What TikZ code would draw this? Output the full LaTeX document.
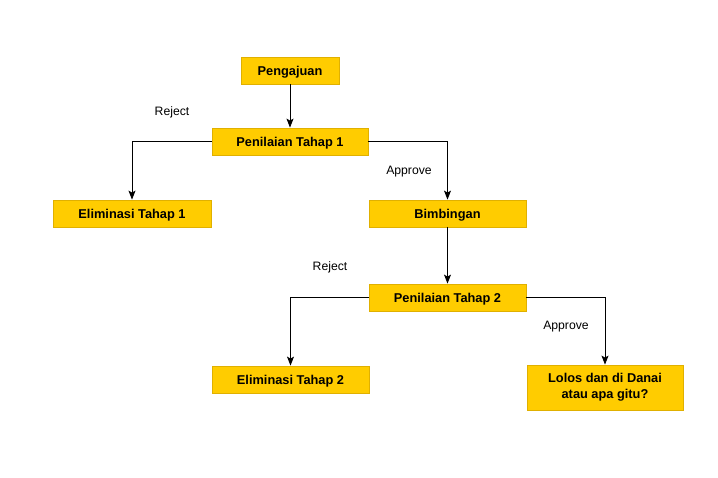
\documentclass[tikz,border=0pt]{standalone}
\usepackage{fontspec}
\setmainfont{Liberation Sans}
\usetikzlibrary{arrows.meta}
\definecolor{boxfill}{HTML}{FFCC00}
\definecolor{boxline}{HTML}{E0B000}
\begin{document}
\begin{tikzpicture}[x=1pt,y=-1pt,
  box/.style={draw=boxline,fill=boxfill,line width=0.8pt,minimum height=27pt,inner sep=0pt,
    font=\fontsize{12.8}{16}\selectfont\bfseries,align=center},
  onebox/.style={box,text height=9.2pt,text depth=0pt},
  lbl/.style={font=\fontsize{12.2}{14}\selectfont},
  conn/.style={draw=black,line width=0.9pt,-{Stealth[length=9pt,width=7pt,inset=2pt]}}]
\useasboundingbox (0,0) rectangle (718,477);
\fill[white] (0,0) rectangle (718,477);
\node[onebox,minimum width=98pt] (peng) at (290,70.5) {Pengajuan};
\node[onebox,minimum width=156pt] (pen1) at (290,141.5) {Penilaian Tahap 1};
\node[onebox,minimum width=158pt] (elim1) at (132,213.5) {Eliminasi Tahap 1};
\node[onebox,minimum width=157pt] (bimb) at (447.5,213.5) {Bimbingan};
\node[onebox,minimum width=157pt] (pen2) at (447.5,297.5) {Penilaian Tahap 2};
\node[onebox,minimum width=157pt] (elim2) at (290.5,379.5) {Eliminasi Tahap 2};
\node[box,minimum width=156pt,minimum height=45pt] (lolos) at (605,387.5) {Lolos dan di Danai\\atau apa gitu?};
\draw[conn] (peng) -- (pen1);
\draw[conn] (pen1.west) -| (elim1.north);
\draw[conn] (pen1.east) -| (bimb.north);
\draw[conn] (bimb) -- (pen2);
\draw[conn] (pen2.west) -| (elim2.north);
\draw[conn] (pen2.east) -| (lolos.north);
\node[lbl] (r1) at (172,112) {Reject};
\node[lbl] (a1) at (409,172) {Approve};
\node[lbl] (r2) at (330,267) {Reject};
\node[lbl] (a2) at (566,327) {Approve};
\end{tikzpicture}
\end{document}
